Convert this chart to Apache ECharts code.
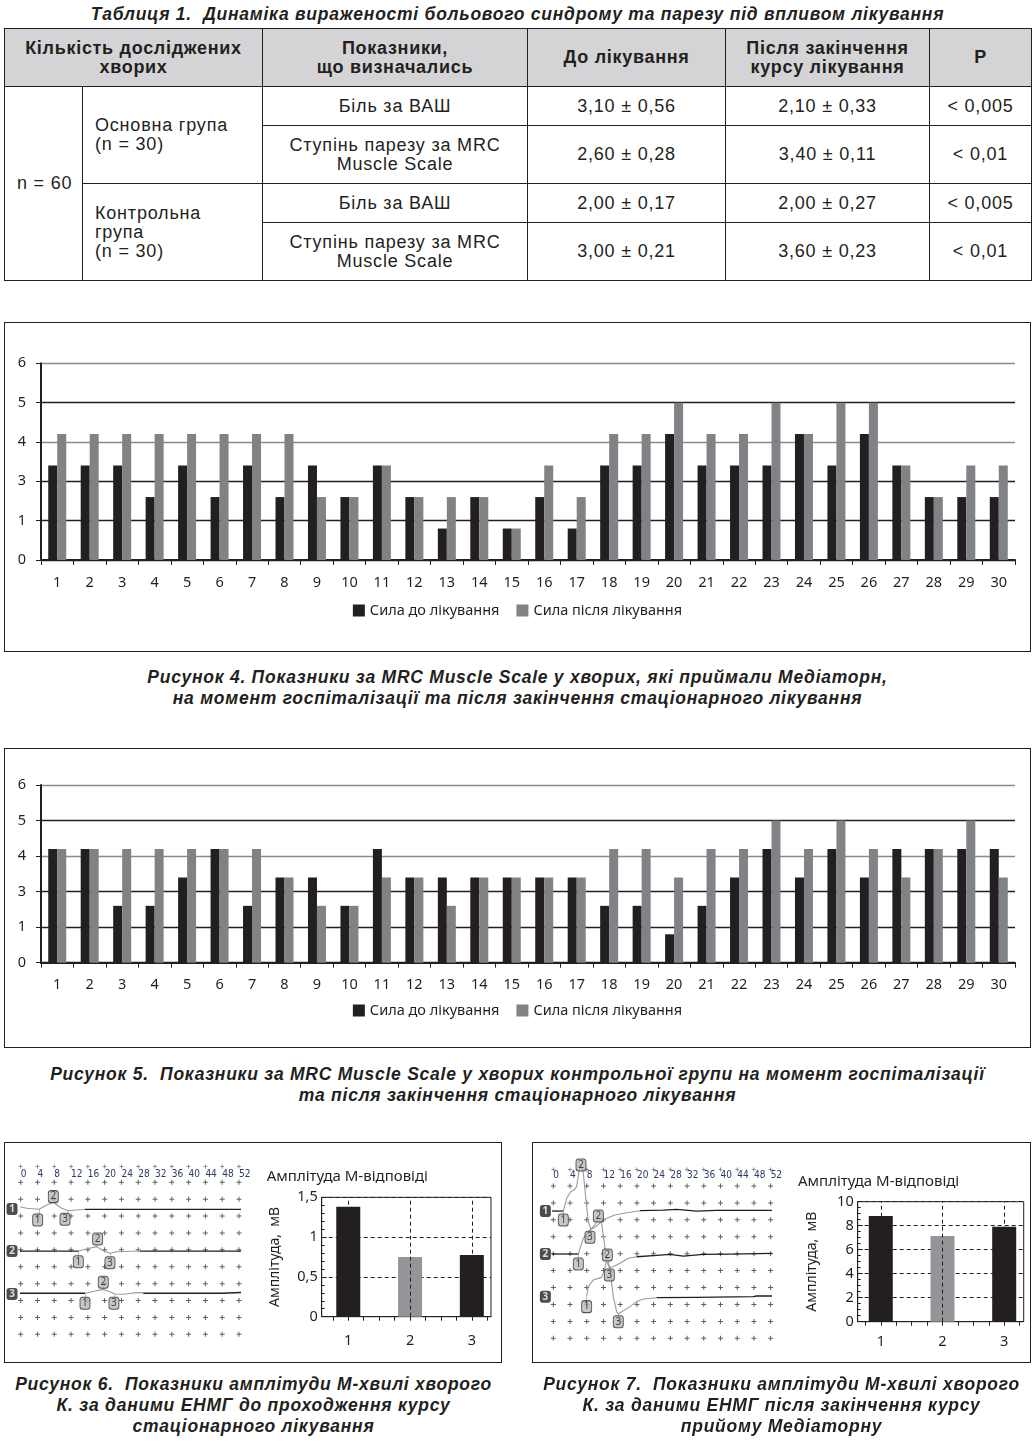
<!DOCTYPE html>
<html><head><meta charset="utf-8">
<script src="https://cdn.jsdelivr.net/npm/echarts@6/dist/echarts.min.js"></script>
<style>
body{margin:0;background:#fff;width:1035px;height:1441px;position:relative;font-family:'Liberation Sans',Arial,sans-serif;color:#231f20;overflow:hidden;}
.cap{position:absolute;text-align:center;font-style:italic;font-weight:bold;font-size:17.5px;letter-spacing:0.75px;line-height:21px;white-space:nowrap;}
table{position:absolute;left:4px;top:28px;width:1027px;border-collapse:collapse;table-layout:fixed;font-size:18px;letter-spacing:0.8px;border:1.5px solid #231f20;}
td{border:1px solid #231f20;padding:0;text-align:center;vertical-align:middle;line-height:19px;}
tr.h td{background:#d4d4d6;font-weight:bold;letter-spacing:0.7px;}
td.l{text-align:left;padding-left:12px;}
.box{position:absolute;border:1px solid #231f20;box-sizing:border-box;}
</style></head>
<body>
<div class="cap" style="left:0;width:1035px;top:4px;">Таблиця 1.&nbsp; Динаміка вираженості больового синдрому та парезу під впливом лікування</div>
<table>
<colgroup><col style="width:78px"><col style="width:180px"><col style="width:265px"><col style="width:198px"><col style="width:204px"><col style="width:102px"></colgroup>
<tr class="h" style="height:58px"><td colspan="2">Кількість досліджених<br>хворих</td><td>Показники,<br>що визначались</td><td>До лікування</td><td>Після закінчення<br>курсу лікування</td><td>P</td></tr>
<tr style="height:39px"><td rowspan="4" class="l">n = 60</td><td rowspan="2" class="l">Основна група<br>(n = 30)</td><td>Біль за ВАШ</td><td>3,10 ± 0,56</td><td>2,10 ± 0,33</td><td>&lt; 0,005</td></tr>
<tr style="height:58px"><td>Ступінь парезу за MRC<br>Muscle Scale</td><td>2,60 ± 0,28</td><td>3,40 ± 0,11</td><td>&lt; 0,01</td></tr>
<tr style="height:39px"><td rowspan="2" class="l">Контрольна<br>група<br>(n = 30)</td><td>Біль за ВАШ</td><td>2,00 ± 0,17</td><td>2,00 ± 0,27</td><td>&lt; 0,005</td></tr>
<tr style="height:58px"><td>Ступінь парезу за MRC<br>Muscle Scale</td><td>3,00 ± 0,21</td><td>3,60 ± 0,23</td><td>&lt; 0,01</td></tr>
</table>

<div id="c4" class="box" style="left:4px;top:322px;width:1027px;height:330px;"></div>
<div class="cap" style="left:0;width:1035px;top:667px;">Рисунок 4. Показники за MRC Muscle Scale у хворих, які приймали Медіаторн,<br>на момент госпіталізації та після закінчення стаціонарного лікування</div>

<div id="c5" class="box" style="left:4px;top:748px;width:1027px;height:300px;"></div>
<div class="cap" style="left:0;width:1035px;top:1064px;">Рисунок 5.&nbsp; Показники за MRC Muscle Scale у хворих контрольної групи на момент госпіталізації<br>та після закінчення стаціонарного лікування</div>

<div id="p6" class="box" style="left:4px;top:1142px;width:498px;height:221px;"></div>
<div id="p7" class="box" style="left:532px;top:1142px;width:499px;height:221px;"></div>
<div class="cap" style="left:0;width:507px;top:1374px;">Рисунок 6.&nbsp; Показники амплітуди М-хвилі хворого<br>К. за даними ЕНМГ до проходження курсу<br>стаціонарного лікування</div>
<div class="cap" style="left:528px;width:507px;top:1374px;">Рисунок 7.&nbsp; Показники амплітуди М-хвилі хворого<br>К. за даними ЕНМГ після закінчення курсу<br>прийому Медіаторну</div>

<script>
// ---------- DATA ----------
const patientCats = ['1','2','3','4','5','6','7','8','9','10','11','12','13','14','15','16','17','18','19','20','21','22','23','24','25','26','27','28','29','30'];
const strengthTickLabels = ['0','1','3','4','5','6'];
const seriesNames = ['Сила до лікування','Сила після лікування'];
const fig4Before = [2.4,2.4,2.4,1.6,2.4,1.6,2.4,1.6,2.4,1.6,2.4,1.6,0.8,1.6,0.8,1.6,0.8,2.4,2.4,3.2,2.4,2.4,2.4,3.2,2.4,3.2,2.4,1.6,1.6,1.6];
const fig4After  = [3.2,3.2,3.2,3.2,3.2,3.2,3.2,3.2,1.6,1.6,2.4,1.6,1.6,1.6,0.8,2.4,1.6,3.2,3.2,4.0,3.2,3.2,4.0,3.2,4.0,4.0,2.4,1.6,2.4,2.4];
const fig5Before = [3.2,3.2,1.6,1.6,2.4,3.2,1.6,2.4,2.4,1.6,3.2,2.4,2.4,2.4,2.4,2.4,2.4,1.6,1.6,0.8,1.6,2.4,3.2,2.4,3.2,2.4,3.2,3.2,3.2,3.2];
const fig5After  = [3.2,3.2,3.2,3.2,3.2,3.2,3.2,2.4,1.6,1.6,2.4,2.4,1.6,2.4,2.4,2.4,2.4,3.2,3.2,2.4,3.2,3.2,4.0,3.2,4.0,3.2,2.4,3.2,4.0,2.4];

const ampTitle = 'Амплітуда М-відповіді';
const ampAxisName = 'Амплітуда,  мВ';
const ampCats = [1,2,3];
const amp6 = [1.38, 0.75, 0.775];
const amp7 = [8.8, 7.14, 7.92];
const emgTicksMs = [0,4,8,12,16,20,24,28,32,36,40,44,48,52];
const emgRows = [0,1,2,3,4,5,6,7,8,9];

// EMG traces (ms, divisions)
const emg6Grey = [
  [[-0.3,7.56],[1.43,7.46],[4.44,7.40],[6.19,7.66],[7.78,7.82],[9.76,7.46],[11.35,7.32],[13.33,7.36],[15.32,7.40]],
  [[13.73,4.93],[15.87,5.07],[18.1,5.19],[19.68,4.95],[21.27,4.80],[22.86,4.89],[28.41,4.93]],
  [[15.32,2.43],[17.54,2.55],[19.68,2.66],[21.11,2.53],[22.46,2.39],[24.44,2.37],[26.83,2.45],[29.21,2.47]]
];
const emg6Black = [
  [[15.32,7.40],[54.2,7.40]],
  [[-0.3,4.93],[13.73,4.93]],
  [[28.41,4.93],[54.2,4.93]],
  [[-0.3,2.43],[15.32,2.43]],
  [[29.21,2.43],[47.86,2.43],[47.86,2.49],[54.2,2.49]]
];
const emg6Markers = [[4.05,6.77,'1'],[7.78,8.15,'2'],[10.56,6.81,'3'],[13.73,4.30,'1'],[18.33,5.64,'2'],[21.27,4.24,'3'],[15.32,1.84,'1'],[19.68,3.08,'2'],[22.22,1.84,'3']];
const emg6Tethers = [[[4.44,7.40],[4.44,6.85]],[[11.35,7.32],[11.0,6.9]],[[13.73,4.93],[13.73,4.4]],[[18.1,5.19],[18.3,5.5]],[[21.27,4.80],[21.27,4.3]],[[15.32,2.43],[15.32,1.9]],[[19.68,2.66],[19.68,3.0]],[[22.46,2.39],[22.3,1.9]]];
const emg6RowLabels = [[-2.06,7.42,'1'],[-2.06,4.93,'2'],[-2.06,2.39,'3']];

const emg7Grey = [
  [[2.39,7.52],[3.19,8.27],[4.15,8.66],[4.94,8.76],[5.58,8.96],[6.06,9.75],[6.62,10.30],[7.18,9.75],[7.81,8.17],[8.37,6.89],[9.01,6.44],[9.97,6.56],[11.16,6.83],[12.76,7.09],[14.75,7.29],[17.54,7.42],[20.73,7.54]],
  [[5.98,4.98],[6.54,5.42],[7.18,5.91],[8.37,6.30],[9.57,6.60],[10.77,6.99],[11.56,6.79],[12.12,5.81],[12.76,4.53],[13.4,4.19],[14.35,4.23],[15.95,4.43],[17.94,4.73],[19.94,4.82]],
  [[7.97,2.46],[8.37,3.05],[9.57,3.45],[10.77,3.54],[11.56,3.60],[12.12,3.94],[12.92,4.82],[13.56,4.04],[14.35,2.46],[15.15,1.58],[15.55,1.44],[16.75,1.63],[18.34,1.87],[19.94,2.17],[21.53,2.32],[24.72,2.40]]
];
const emg7Black = [
  [[-0.64,7.52],[2.39,7.52]],
  [[20.73,7.54],[26.32,7.58],[29.51,7.62],[34.29,7.52],[39.07,7.56],[54.39,7.56]],
  [[-0.64,4.98],[5.98,4.98]],
  [[19.94,4.82],[24.72,4.90],[27.91,4.96],[31.1,4.86],[35.89,4.96],[42.26,4.98],[54.39,5.02]],
  [[24.72,2.40],[34.29,2.42],[47.85,2.46],[48.64,2.50],[54.39,2.50]]
];
const emg7Markers = [[2.39,6.99,'1'],[6.62,10.24,'2'],[8.77,5.97,'3'],[5.98,4.39,'1'],[10.77,7.23,'2'],[13.4,3.74,'3'],[7.97,1.87,'1'],[12.92,4.92,'2'],[15.55,0.98,'3']];
const emg7Tethers = [[[2.39,7.52],[2.39,7.0]],[[9.01,6.44],[8.8,6.0]],[[5.98,4.98],[5.98,4.4]],[[13.4,4.19],[13.4,3.8]],[[7.97,2.46],[7.97,1.9]],[[15.55,1.44],[15.55,1.0]]];
const emg7RowLabels = [[-1.91,7.52,'1'],[-1.91,4.98,'2'],[-1.91,2.46,'3']];

// ---------- STYLE / LAYOUT ----------
const INK = '#231f20', GREY = '#808285', GREY2 = '#939598';
const FONT = "'Noto Sans', sans-serif";
const PLUS = 'path://M4,0H6V4H10V6H6V10H4V6H0V4H4Z';

function mrcOption(before, after, L) {
  return {
    animation: false,
    textStyle: {fontFamily: FONT, color: INK},
    grid: {left: L.left, top: L.top, right: L.right, bottom: L.bottom, outerBoundsMode: 'none', containLabel: false},
    legend: {data: seriesNames, left: 'center', top: L.legendTop, icon: 'rect', itemWidth: 12, itemHeight: 12, itemGap: 17,
      textStyle: {fontSize: 14.5, color: INK, fontFamily: FONT}},
    xAxis: {type: 'category', data: patientCats, boundaryGap: true,
      axisLine: {lineStyle: {color: INK, width: 2}},
      axisTick: {show: true, length: 5, lineStyle: {color: INK, width: 1}},
      axisLabel: {fontSize: 14.5, color: INK, margin: 15, fontFamily: FONT, interval: 0}},
    yAxis: {type: 'value', min: 0, max: 5, interval: 1,
      axisLine: {show: true, lineStyle: {color: INK, width: 2}},
      axisTick: {show: true, length: 5, lineStyle: {color: INK}},
      axisLabel: {fontSize: 14.5, color: INK, margin: 15, fontFamily: FONT, formatter: v => strengthTickLabels[Math.round(v)]},
      splitLine: {show: true, lineStyle: {color: [INK, INK, INK, '#8a8a8a', INK, '#8a8a8a'], width: 1.3}}},
    series: [
      {name: seriesNames[0], type: 'bar', data: before, barWidth: 9, barGap: '0%', itemStyle: {color: INK}},
      {name: seriesNames[1], type: 'bar', data: after, barWidth: 9, barGap: '0%', itemStyle: {color: GREY}}
    ]
  };
}

function panelOption(grey, black, markers, tethers, rowLabels, amp, P) {
  const gridPts = [];
  emgRows.forEach(r => emgTicksMs.forEach(m => gridPts.push([m, r])));
  const topPts = emgTicksMs.map(m => [m, P.topRow]);
  const series = [
    {type: 'scatter', xAxisIndex: 0, yAxisIndex: 0, data: gridPts, symbol: PLUS, symbolSize: 5, itemStyle: {color: '#3a3a3a'}, silent: true, z: 1},
    {type: 'scatter', xAxisIndex: 0, yAxisIndex: 0, data: topPts, symbol: PLUS, symbolSize: 4, itemStyle: {color: '#555'}, silent: true, clip: false, z: 1}
  ];
  grey.forEach(tr => series.push({type: 'line', xAxisIndex: 0, yAxisIndex: 0, data: tr, showSymbol: false, clip: false, silent: true,
    lineStyle: {color: '#9b9b9b', width: 1.1}, z: 2}));
  black.forEach(tr => series.push({type: 'line', xAxisIndex: 0, yAxisIndex: 0, data: tr, showSymbol: false, clip: false, silent: true,
    lineStyle: {color: INK, width: 1.3}, z: 2}));
  series.push({type: 'lines', coordinateSystem: 'cartesian2d', xAxisIndex: 0, yAxisIndex: 0, silent: true, z: 3,
    data: tethers.map(c => ({coords: c})), lineStyle: {color: '#7a7a7a', width: 1}});
  series.push({type: 'scatter', xAxisIndex: 0, yAxisIndex: 0, clip: false, silent: true, z: 4,
    data: markers.map(m => ({value: [m[0], m[1]], name: m[2]})),
    symbol: 'roundRect', symbolSize: [10, 12], itemStyle: {color: '#b9b9b9', borderColor: '#333', borderWidth: 1},
    label: {show: true, position: 'inside', formatter: p => p.name, fontSize: 10, color: INK, fontFamily: FONT}});
  series.push({type: 'scatter', xAxisIndex: 0, yAxisIndex: 0, clip: false, silent: true, z: 4,
    data: rowLabels.map(m => ({value: [m[0], m[1]], name: m[2]})),
    symbol: 'roundRect', symbolSize: [11, 12], itemStyle: {color: INK},
    label: {show: true, position: 'inside', formatter: p => p.name, fontSize: 10, fontWeight: 'bold', color: '#fff', fontFamily: FONT}});
  // amplitude bars
  series.push({type: 'line', xAxisIndex: 1, yAxisIndex: 1, data: [[1, 0]], showSymbol: false, lineStyle: {opacity: 0}, silent: true, z: 1,
    markLine: {silent: true, symbol: 'none', label: {show: false}, lineStyle: {color: INK, type: [4, 3], width: 1},
      data: ampCats.map(c => ({xAxis: c}))}});
  series.push({type: 'bar', xAxisIndex: 1, yAxisIndex: 1, barWidth: 24, z: 3,
    data: ampCats.map((c, i) => ({value: [c, amp[i]], itemStyle: {color: i === 1 ? GREY2 : INK}}))});
  return {
    animation: false,
    textStyle: {fontFamily: FONT, color: INK},
    title: {text: ampTitle, left: P.titleLeft, top: P.titleTop, padding: 0,
      textStyle: {fontSize: 15, fontWeight: 'normal', color: INK, fontFamily: FONT}},
    grid: [
      {left: P.emg.left, top: P.emg.top, width: P.emg.width, height: P.emg.height, outerBoundsMode: 'none', containLabel: false},
      {left: P.bar.left, top: P.bar.top, width: P.bar.width, height: P.bar.height, show: true, borderColor: INK, borderWidth: 1,
        backgroundColor: 'transparent', outerBoundsMode: 'none', containLabel: false}
    ],
    xAxis: [
      {gridIndex: 0, type: 'value', min: 0, max: 52, interval: 4, position: 'top',
        axisLine: {show: false}, axisTick: {show: false}, splitLine: {show: false},
        axisLabel: {show: true, margin: P.labelMargin, fontSize: 10, align: 'left', color: '#2b3a67',
          fontFamily: "'Liberation Sans Narrow','DejaVu Sans Condensed',sans-serif"}},
      {gridIndex: 1, type: 'value', min: P.xMin, max: P.xMax,
        axisLine: {show: true, onZero: false, lineStyle: {color: INK, width: 1}},
        axisTick: {show: true, length: 4, lineStyle: {color: INK}, customValues: [0.75,1,1.25,1.5,1.75,2,2.25,2.5,2.75,3,3.25]},
        axisLabel: {show: true, fontSize: 14.5, color: INK, margin: P.xLabMargin, customValues: ampCats, formatter: v => String(v)},
        splitLine: {show: false}}
    ],
    yAxis: [
      {gridIndex: 0, type: 'value', min: 0, max: 9, show: false},
      {gridIndex: 1, type: 'value', min: 0, max: P.yMax, interval: P.yInterval,
        name: ampAxisName, nameLocation: 'middle', nameRotate: 90, nameGap: P.nameGap,
        nameTextStyle: {fontSize: 14, color: INK, fontFamily: FONT},
        axisLine: {show: true, lineStyle: {color: INK, width: 1}},
        axisTick: {show: true, inside: true, length: 5, lineStyle: {color: INK}},
        minorTick: {show: true, splitNumber: P.minorSplit, length: 3, lineStyle: {color: INK}},
        axisLabel: {fontSize: 14.5, color: INK, margin: 4, formatter: v => String(v).replace('.', ',')},
        splitLine: {show: true, lineStyle: {color: INK, type: [4, 3], width: 1}}}
    ],
    series: series
  };
}

const c4 = echarts.init(document.getElementById('c4'), null, {renderer: 'canvas'});
c4.setOption(mrcOption(fig4Before, fig4After, {left: 36, top: 40.3, right: 15, bottom: 91, legendTop: 275}));
const c5 = echarts.init(document.getElementById('c5'), null, {renderer: 'canvas'});
c5.setOption(mrcOption(fig5Before, fig5After, {left: 36, top: 36, right: 15, bottom: 84.3, legendTop: 249}));

const p6 = echarts.init(document.getElementById('p6'));
p6.setOption(panelOption(emg6Grey, emg6Black, emg6Markers, emg6Tethers, emg6RowLabels, amp6, {
  topRow: 9.93, labelMargin: 3,
  emg: {left: 15.67, top: 39.3, width: 218.3, height: 152},
  bar: {left: 316.7, top: 54.3, width: 169.3, height: 119.4},
  xMin: 0.57, xMax: 3.31, yMax: 1.5, yInterval: 0.5, minorSplit: 5, nameGap: 40, xLabMargin: 17,
  titleLeft: 261.7, titleTop: 26}));
const p7 = echarts.init(document.getElementById('p7'));
p7.setOption(panelOption(emg7Grey, emg7Black, emg7Markers, emg7Tethers, emg7RowLabels, amp7, {
  topRow: 9.98, labelMargin: 6,
  emg: {left: 20.33, top: 43, width: 217.3, height: 152.3},
  bar: {left: 324.7, top: 58.7, width: 166, height: 120},
  xMin: 0.626, xMax: 3.316, yMax: 10, yInterval: 2, minorSplit: 4, nameGap: 39, xLabMargin: 13,
  titleLeft: 265, titleTop: 31}));
</script>
</body></html>
